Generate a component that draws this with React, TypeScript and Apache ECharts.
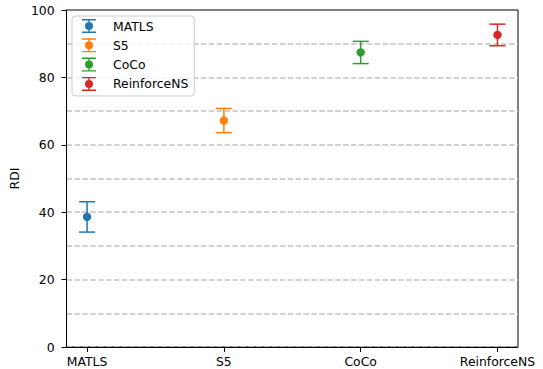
import React, { useEffect, useRef } from "react";
import * as echarts from "echarts";

const methods = ["MATLS", "S5", "CoCo", "ReinforceNS"];
const means = [38.6, 67.2, 87.4, 92.6];
const errors = [4.5, 3.6, 3.3, 3.2];
const colors = ["#1f77b4", "#ff7f0e", "#2ca02c", "#d62728"];
const yTicks = [0, 20, 40, 60, 80, 100];
const xTicks = [0, 1, 2, 3];
const yAxisName = "RDI";

const FONT = "DejaVu Sans";
const LEGEND_ICON =
  "path://M0,0h14v1.4h-14z M6.3,0h1.4v14h-1.4z M0,12.6h14v1.4h-14z M3,7a4,4 0 1,1 8,0a4,4 0 1,1 -8,0z";

export default function App() {
  const ref = useRef<HTMLDivElement>(null);
  useEffect(() => {
    if (!ref.current) return;
    const chart = echarts.init(ref.current, null, { renderer: "svg" });
    const series = methods.map((name, i) => ({
      type: "custom",
      name,
      yAxisIndex: 0,
      itemStyle: { color: colors[i] },
      data: [[i, means[i], errors[i]]],
      encode: { x: 0, y: 1 },
      z: 5,
      renderItem: (params: any, api: any) => {
        const x = api.value(0);
        const m = api.value(1);
        const e = api.value(2);
        const c = api.coord([x, m]);
        const top = api.coord([x, m + e]);
        const bot = api.coord([x, m - e]);
        const col = colors[i];
        const cap = 8;
        const ls = { stroke: col, lineWidth: 1.5 };
        return {
          type: "group",
          children: [
            { type: "line", shape: { x1: c[0], y1: top[1], x2: c[0], y2: bot[1] }, style: ls },
            { type: "line", shape: { x1: c[0] - cap, y1: top[1], x2: c[0] + cap, y2: top[1] }, style: ls },
            { type: "line", shape: { x1: c[0] - cap, y1: bot[1], x2: c[0] + cap, y2: bot[1] }, style: ls },
            { type: "circle", shape: { cx: c[0], cy: c[1], r: 4.2 }, style: { fill: col } },
          ],
        };
      },
    }));
    const splitColors = Array.from({ length: 11 }, (_, k) =>
      k === 10 ? "rgba(0,0,0,0)" : "#c2c2c2"
    );
    chart.setOption({
      animation: false,
      textStyle: { fontFamily: FONT },
      grid: {
        left: 66,
        right: 25,
        top: 10,
        bottom: 22,
        show: true,
        borderColor: "#000",
        borderWidth: 1,
      },
      legend: {
        orient: "vertical",
        left: 72,
        top: 16,
        itemWidth: 14,
        itemHeight: 14,
        itemGap: 5.3,
        padding: [3, 6, 5, 10],
        borderColor: "#cccccc",
        borderWidth: 1,
        borderRadius: 3,
        backgroundColor: "rgba(255,255,255,0.8)",
        icon: LEGEND_ICON,
        data: methods,
        z: 10,
        textStyle: { fontFamily: FONT, fontSize: 12.4, color: "#000", padding: [0, 0, 0, 12] },
      },
      xAxis: {
        type: "value",
        min: -0.15,
        max: 3.15,
        splitLine: { show: false },
        axisLine: { show: true, onZero: false, lineStyle: { color: "#000", width: 1 } },
        axisTick: { show: true, customValues: xTicks, length: 5, lineStyle: { color: "#000" } },
        axisLabel: {
          customValues: xTicks,
          formatter: (v: number) => methods[Math.round(v)] ?? "",
          fontFamily: FONT,
          fontSize: 12.4,
          color: "#000",
          margin: 8,
        },
      },
      yAxis: [
        {
          type: "value",
          min: 0,
          max: 100,
          interval: 20,
          name: yAxisName,
          nameLocation: "middle",
          nameGap: 43,
          nameTextStyle: { fontFamily: FONT, fontSize: 12.4, color: "#000" },
          axisLine: { show: true, onZero: false, lineStyle: { color: "#000", width: 1 } },
          axisTick: { show: true, length: 5, lineStyle: { color: "#000" } },
          axisLabel: {
            fontFamily: FONT,
            fontSize: 12.4,
            color: "#000",
            margin: 12,
          },
          splitLine: { show: false },
        },
        {
          type: "value",
          position: "left",
          min: 0,
          max: 100,
          interval: 10,
          axisLine: { show: false },
          axisTick: { show: false },
          axisLabel: { show: false },
          splitLine: {
            show: true,
            lineStyle: { color: splitColors, type: [5.5, 2.4], width: 1.5 },
          },
        },
      ],
      series,
    });
    return () => chart.dispose();
  }, []);
  return (
    <div
      ref={ref}
      style={{ position: "absolute", left: 0, top: 0, width: 543, height: 369 }}
    />
  );
}
